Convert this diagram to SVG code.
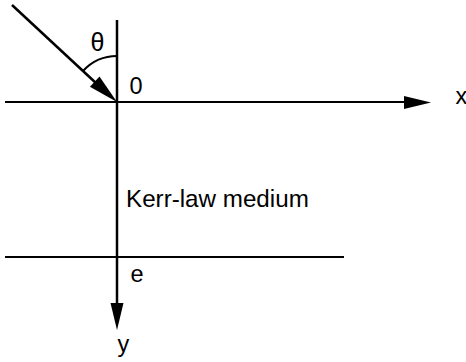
<svg xmlns="http://www.w3.org/2000/svg" width="466" height="362" viewBox="0 0 466 362">
<style>
.ln{stroke:#000;fill:none;stroke-width:2}
.ax{stroke:#000;fill:none;stroke-width:2.5}
.ah{fill:#000;stroke:none}
.t{font-family:"Liberation Sans",Arial,sans-serif;font-size:23.5px;fill:#000}
</style>
<rect width="466" height="362" fill="#fff"/>
<g id="connectors">
<line class="ln" x1="5" y1="102" x2="408" y2="102"/>
<polygon class="ah" points="431,102.5 404,96 404,109"/>
<line class="ax" x1="117" y1="20" x2="117" y2="306"/>
<polygon class="ah" points="117,330 110.5,303 123.5,303"/>
<line class="ln" x1="5" y1="257" x2="344" y2="257"/>
<line class="ax" x1="12" y1="5" x2="97" y2="84"/>
<polygon class="ah" points="117,102 89.9,86.7 99.5,76.5"/>
<path class="ln" d="M83.2 70.8 A46 46 0 0 1 117 56"/>
</g>
<g id="labels">
<text class="t" x="90.5" y="51" style="font-size:25px">θ</text>
<text class="t" x="129.5" y="93.5">0</text>
<text class="t" x="455.5" y="104">x</text>
<text class="t" x="126" y="206.5" style="font-size:24.2px">Kerr-law medium</text>
<text class="t" x="130.5" y="282">e</text>
<text class="t" x="117.5" y="352">y</text>
</g>
</svg>
